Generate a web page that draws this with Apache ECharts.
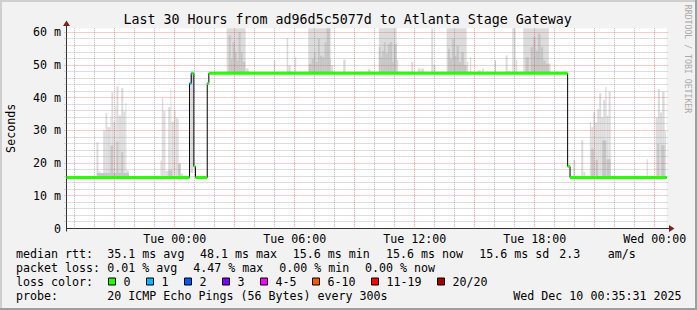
<!DOCTYPE html>
<html><head><meta charset="utf-8">
<script src="https://cdn.jsdelivr.net/npm/echarts@6/dist/echarts.min.js"></script>
<style>html,body{margin:0;padding:0;background:#f2f2f2}#c{width:697px;height:310px}</style>
</head><body><div id="c"></div><script>
// ---------- data ----------
const FONT = 'DejaVu Sans Mono';
const titleText = 'Last 30 Hours from ad96d5c5077d to Atlanta Stage Gateway';
const xStart = -5.4167, xEnd = 24.5917;      // hours relative to Tue 00:00
const yMax = 61.3;
const xTickValues = [0, 6, 12, 18, 24];
const xTickLabels = ['Tue 00:00', 'Tue 06:00', 'Tue 12:00', 'Tue 18:00', 'Wed 00:00'];
const yTickValues = [0, 10, 20, 30, 40, 50, 60];
const yTickLabels = ['0', '10 m', '20 m', '30 m', '40 m', '50 m', '60 m'];

// median rtt (ms): [from h, to h, value, lost pings]
const medianSegments = [
  [-5.4167, 0.735, 15.6, 0],
  [0.735, 0.82, 44.4, 1],
  [0.82, 0.87, 47.5, 1],
  [0.87, 0.95, 47.5, 0],
  [0.95, 1.03, 19.0, 0],
  [1.03, 1.62, 15.6, 0],
  [1.62, 1.70, 44.4, 0],
  [1.70, 19.64, 47.5, 0],
  [19.64, 19.76, 19.0, 0],
  [19.76, 24.5917, 15.6, 0]
];

// smoke, outer spread (ms): [from h, to h, low, high]
const smokeOuter = [
  [-3.92,-3.82,15.6,26.4],[-3.82,-3.72,15.6,17.5],[-3.72,-3.58,15.6,16.8],[-3.58,-3.47,15.6,30.0],
  [-3.47,-3.38,15.6,35.3],[-3.38,-3.22,15.6,31.0],[-3.22,-3.17,15.6,34.3],[-3.17,-3.08,15.6,41.7],
  [-3.08,-2.97,15.6,32.5],[-2.97,-2.92,15.6,37.6],[-2.92,-2.82,15.6,43.5],[-2.82,-2.68,15.6,34.6],
  [-2.68,-2.58,15.6,43.0],[-2.58,-2.47,15.6,35.8],[-2.47,-2.42,15.6,38.4],[-2.42,-2.30,15.6,17.8],
  [-0.72,-0.65,15.6,20.8],[-0.65,-0.58,15.6,39.9],[-0.58,-0.47,15.6,36.0],[-0.47,-0.33,15.6,17.6],
  [-0.33,-0.22,15.6,37.2],[-0.22,-0.17,15.6,42.9],[-0.17,-0.05,15.6,32.7],[-0.05,0.04,15.6,36.2],
  [0.04,0.12,15.6,34.0],[0.12,0.19,15.6,33.5],[0.19,0.29,15.6,20.0],[0.29,0.42,15.6,16.8],
  [0.78,0.92,17.0,47.5],
  [2.59,3.54,47.5,62],[3.54,3.69,47.5,49.0],[4.95,5.02,47.5,51.4],[5.59,5.67,47.5,58.3],
  [5.67,5.79,47.5,49.9],[6.00,6.07,47.5,52.4],[6.67,7.79,47.5,62],[7.79,7.92,47.5,50.0],
  [8.42,8.54,47.5,51.7],[9.65,9.79,47.5,48.7],[10.20,11.09,47.5,62],[11.09,11.17,47.5,51.5],
  [11.82,11.92,47.5,51.0],[12.15,12.29,47.5,49.0],[12.32,12.45,47.5,49.0],[12.82,12.92,47.5,62],
  [12.92,13.04,47.5,50.0],[13.59,14.59,47.5,62],[14.59,14.67,47.5,51.0],[14.75,14.82,47.5,52.5],
  [15.15,15.29,47.5,48.4],[15.37,15.45,47.5,49.0],[16.54,16.64,47.5,53.0],[16.65,16.75,47.5,48.3],
  [16.87,16.95,47.5,62],[16.95,17.04,47.5,62],[17.04,17.12,47.5,51.5],[17.42,18.70,47.5,62],
  [18.70,18.79,47.5,50.5],
  [19.92,20.02,15.6,21.0],[20.32,20.42,15.6,27.0],[20.42,20.52,15.6,17.3],[20.75,20.82,15.6,32.5],
  [20.82,20.92,15.6,31.0],[20.92,21.02,15.6,35.6],[21.02,21.12,15.6,32.5],[21.12,21.22,15.6,36.6],
  [21.22,21.32,15.6,41.4],[21.32,21.42,15.6,34.0],[21.42,21.52,15.6,39.4],[21.52,21.59,15.6,43.3],
  [21.59,21.69,15.6,34.5],[21.69,21.79,15.6,41.9],[23.59,23.65,15.6,21.2],[24.04,24.15,15.6,34.0],
  [24.15,24.25,15.6,42.7],[24.25,24.37,15.6,35.5],[24.37,24.49,15.6,41.9],[24.49,24.56,15.6,29.8]
];

// smoke, inner spread (ms): [from h, to h, low, high]
const smokeInner = [
  [-3.90,-2.30,15.6,17.0],[-3.22,-3.08,15.6,25.4],[-2.92,-2.82,15.6,26.6],[-2.68,-2.58,15.6,23.4],
  [-0.33,-0.13,15.6,17.8],[0.15,0.29,15.6,19.7],[0.80,0.87,44.5,47.5],
  [2.69,2.79,47.5,59.1],[2.79,2.89,47.5,51.9],[2.89,2.99,47.5,57.0],[2.99,3.09,47.5,54.0],
  [3.09,3.19,47.5,51.4],[3.19,3.29,47.5,60.1],[3.29,3.39,47.5,54.0],[3.39,3.52,47.5,51.0],
  [6.70,6.84,47.5,50.4],[6.84,6.95,47.5,51.9],[6.95,7.04,47.5,54.0],[7.04,7.15,47.5,51.0],
  [7.15,7.25,47.5,58.1],[7.25,7.37,47.5,52.9],[7.37,7.49,47.5,52.4],[7.49,7.59,47.5,57.0],
  [7.59,7.75,47.5,61.3],[7.75,7.79,47.5,51.9],
  [10.20,10.29,47.5,55.5],[10.29,10.37,47.5,52.4],[10.37,10.45,47.5,54.4],[10.45,10.54,47.5,57.0],
  [10.54,10.65,47.5,53.5],[10.65,10.75,47.5,56.5],[10.75,10.87,47.5,57.0],[10.87,10.95,47.5,51.0],
  [10.95,11.09,47.5,56.5],
  [13.65,13.75,47.5,55.0],[13.75,13.87,47.5,51.9],[13.87,13.99,47.5,58.0],[13.99,14.09,47.5,52.9],
  [14.09,14.20,47.5,56.0],[14.20,14.32,47.5,51.0],[14.32,14.45,47.5,54.0],[14.45,14.59,47.5,50.0],
  [16.01,16.06,47.5,51.4],
  [17.54,17.70,47.5,52.4],[17.79,17.92,47.5,55.5],[17.92,18.04,47.5,58.6],[18.04,18.15,47.5,54.4],
  [18.15,18.29,47.5,59.6],[18.29,18.42,47.5,55.5],[18.42,18.54,47.5,51.4],[18.54,18.70,47.5,50.4],
  [20.82,20.95,15.6,24.4],[21.04,21.15,15.6,21.0],[21.37,21.57,15.6,27.0],[21.59,21.79,15.6,21.2],
  [24.12,24.22,15.6,25.9],[24.32,24.49,15.6,25.5]
];

const lossLabels = ['0', '1', '2', '3', '4-5', '6-10', '11-19', '20/20'];
const lossColors = ['#26ff00', '#00b8ff', '#0059ff', '#7e00ff', '#ff00ff', '#ff5500', '#ff0000', '#a00000'];
const rttNames = ['avg', 'max', 'min', 'now', 'sd'];
const rttValues = [35.1, 48.1, 15.6, 15.6, 15.6];
const rttAmps = 2.3;
const lossNames = ['avg', 'max', 'min', 'now'];
const lossValues = [0.01, 4.47, 0.00, 0.00];
const probeText = '20 ICMP Echo Pings (56 Bytes) every 300s';
const dateText = 'Wed Dec 10 00:35:31 2025';

// ---------- chart ----------
const chart = echarts.init(document.getElementById('c'), null, {renderer: 'svg'});

// grid-line definitions derived from the axes: [orientation, value, major]
const gridDefs = [];
for (let h = Math.ceil(xStart); h <= Math.floor(xEnd); h++) gridDefs.push([0, h, h % 3 === 0 ? 1 : 0]);
for (let v = 2; v <= 60; v += 2) gridDefs.push([1, v, v % 10 === 0 ? 1 : 0]);

function clipTo(params, shape) {
  const cs = params.coordSys;
  return echarts.graphic.clipRectByRect(shape, {x: cs.x, y: cs.y, width: cs.width, height: cs.height});
}
function smokeRender(color) {
  return function (params, api) {
    const p0 = api.coord([api.value(0), api.value(3)]);
    const p1 = api.coord([api.value(1), api.value(2)]);
    const shape = clipTo(params, {x: p0[0], y: p0[1], width: p1[0] - p0[0], height: p1[1] - p0[1]});
    return shape && {type: 'rect', shape: shape, style: {fill: color}};
  };
}

const stepData = medianSegments.map(s => [s[0], s[2]]);
stepData.push([medianSegments[medianSegments.length - 1][1], medianSegments[medianSegments.length - 1][2]]);

const txt = (s, x, y, extra) => Object.assign({type: 'text', x: x, y: y, silent: true,
  style: Object.assign({text: s, font: '11.65px ' + FONT, fill: '#000', textVerticalAlign: 'middle'}, extra || {})});

const option = {
  backgroundColor: '#f2f2f2',
  animation: false,
  title: {text: titleText, left: 123.5, top: 11.2, padding: 0,
    textStyle: {fontFamily: FONT, fontSize: 13.3, fontWeight: 'normal', color: '#000', lineHeight: 16}},
  grid: {left: 66.5, top: 28.2, width: 600.17, height: 200.3, show: true, backgroundColor: '#ffffff',
    borderWidth: 0, containLabel: false, outerBoundsMode: 'none'},
  xAxis: {type: 'value', min: xStart, max: xEnd,
    axisLine: {show: true, onZero: false, lineStyle: {color: '#333', width: 1}},
    axisTick: {show: false}, splitLine: {show: false},
    axisLabel: {customValues: xTickValues, margin: 4, color: '#000', fontFamily: FONT, fontSize: 11.65,
      formatter: v => xTickLabels[xTickValues.indexOf(v)]}},
  yAxis: {type: 'value', min: 0, max: yMax, name: 'Seconds', nameLocation: 'middle', nameGap: 50,
    nameTextStyle: {fontFamily: FONT, fontSize: 11.65, color: '#000'},
    axisLine: {show: true, onZero: false, lineStyle: {color: '#333', width: 1}},
    axisTick: {show: false}, splitLine: {show: false},
    axisLabel: {customValues: yTickValues, margin: 5.5, color: '#000', fontFamily: FONT, fontSize: 11.65,
      formatter: v => yTickLabels[yTickValues.indexOf(v)]}},
  series: [
    {type: 'custom', name: 'smoke outer', data: smokeOuter, renderItem: smokeRender('#dcdcdc'), silent: true, z: 1},
    {type: 'custom', name: 'smoke inner', data: smokeInner, renderItem: smokeRender('#c6c6c6'), silent: true, z: 1},
    {type: 'custom', name: 'grid', data: gridDefs, silent: true, z: 2,
      renderItem: function (params, api) {
        const cs = params.coordSys, kind = api.value(0), v = api.value(1), major = api.value(2);
        const style = {stroke: major ? 'rgba(222,79,79,0.55)' : 'rgba(143,143,143,0.6)', lineWidth: 1, lineDash: [1, 1]};
        if (kind === 0) {
          const x = Math.floor(api.coord([v, 0])[0]) + 0.5;
          return {type: 'line', shape: {x1: x, y1: cs.y, x2: x, y2: cs.y + cs.height}, style: style};
        }
        const y = Math.floor(api.coord([xStart, v])[1]) + 0.5;
        return {type: 'line', shape: {x1: cs.x - 2, y1: y, x2: cs.x + cs.width + 2, y2: y}, style: style};
      }},
    {type: 'line', name: 'median step', data: stepData, step: 'end', symbol: 'none', silent: true, z: 3,
      lineStyle: {color: '#000', width: 1}},
    {type: 'custom', name: 'median rtt', data: medianSegments, silent: true, z: 4,
      renderItem: function (params, api) {
        const a = api.coord([api.value(0), api.value(2)]);
        const b = api.coord([api.value(1), api.value(2)]);
        return {type: 'line', shape: {x1: a[0], y1: a[1], x2: b[0], y2: b[1]},
          style: {stroke: lossColors[api.value(3)], lineWidth: 3}};
      }}
  ]
};
chart.setOption(option);

// ---------- decorations & legend ----------
const tl = chart.convertToPixel({gridIndex: 0}, [xStart, yMax]);
const br = chart.convertToPixel({gridIndex: 0}, [xEnd, 0]);
const ax = Math.round(tl[0] * 2) / 2, ay = Math.round(br[1] * 2) / 2;
const arrowColor = '#801f1f';
const g = [];
g.push({type: 'line', shape: {x1: ax, y1: tl[1], x2: ax, y2: 25}, style: {stroke: '#333', lineWidth: 1}, silent: true});
g.push({type: 'line', shape: {x1: ax, y1: ay, x2: ax, y2: ay + 3}, style: {stroke: '#333', lineWidth: 1}, silent: true});
g.push({type: 'polygon', shape: {points: [[ax, 20.5], [ax - 3.5, 26], [ax + 3.5, 26]]}, style: {fill: arrowColor}, silent: true});
g.push({type: 'line', shape: {x1: br[0], y1: ay, x2: 669, y2: ay}, style: {stroke: '#333', lineWidth: 1}, silent: true});
g.push({type: 'polygon', shape: {points: [[674.5, ay], [669, ay - 3.5], [669, ay + 3.5]]}, style: {fill: arrowColor}, silent: true});

const row = [253.6, 267.6, 281.6, 295.6];
g.push(txt('median rtt:', 16, row[0]));
const rttX = [107.3, 200, 292.7, 386, 479.3];
rttValues.forEach((v, i) => g.push(txt(v.toFixed(1) + ' ms ' + rttNames[i], rttX[i], row[0])));
g.push(txt(rttAmps.toFixed(1), 559.3, row[0]));
g.push(txt('am/s', 607.7, row[0]));
g.push(txt('packet loss:', 16, row[1]));
const lossX = [107.3, 193.3, 279.3, 365];
lossValues.forEach((v, i) => g.push(txt(v.toFixed(2) + ' % ' + lossNames[i], lossX[i], row[1])));
g.push(txt('loss color:', 16, row[2]));
let bx = 108.5;
const cw = 7.05;
lossLabels.forEach((lab, i) => {
  g.push({type: 'rect', shape: {x: bx, y: row[2] - 3.6, width: 7, height: 7},
    style: {fill: lossColors[i], stroke: '#000', lineWidth: 1}, silent: true});
  g.push(txt(lab, bx + 15, row[2]));
  bx = Math.round(bx + 15 + lab.length * cw + 15.2) + 0.5;
});
g.push(txt('probe:', 16, row[3]));
g.push(txt(probeText, 107.3, row[3]));
g.push(txt(dateText, 513.3, row[3]));
g.push({type: 'text', x: 688, y: 59, rotation: -Math.PI / 2, silent: true,
  style: {text: 'RRDTOOL / TOBI OETIKER', font: '8.2px ' + FONT, fill: '#a9a9a9', textAlign: 'center', textVerticalAlign: 'middle'}});
// frame shading
g.push({type: 'rect', shape: {x: 0, y: 0, width: 697, height: 2}, style: {fill: '#cfcfcf'}, silent: true});
g.push({type: 'rect', shape: {x: 0, y: 0, width: 2, height: 310}, style: {fill: '#cfcfcf'}, silent: true});
g.push({type: 'rect', shape: {x: 0, y: 308, width: 697, height: 2}, style: {fill: '#9e9e9e'}, silent: true});
g.push({type: 'rect', shape: {x: 695, y: 0, width: 2, height: 310}, style: {fill: '#9e9e9e'}, silent: true});
chart.setOption({graphic: g});
</script></body></html>
